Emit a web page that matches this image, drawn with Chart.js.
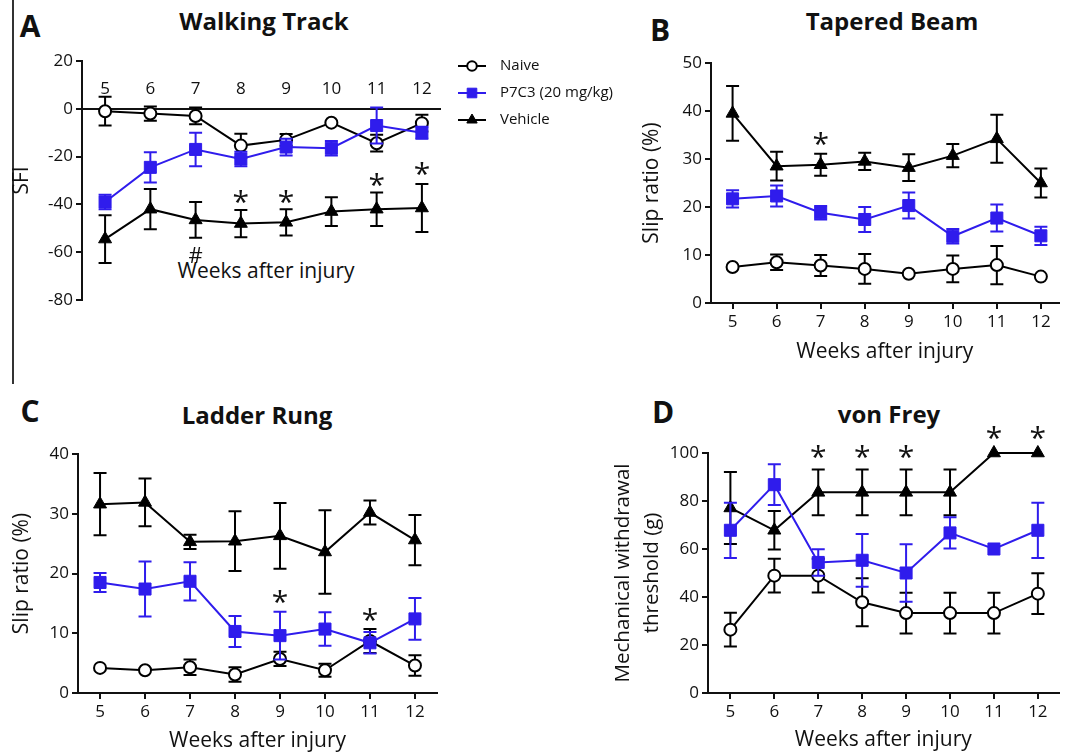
<!DOCTYPE html>
<html>
<head>
<meta charset="utf-8">
<script src="https://cdn.jsdelivr.net/npm/chart.js@4.4.0/dist/chart.umd.min.js"></script>
<style>
	body { margin: 0; width: 1068px; height: 754px; overflow: hidden; position: relative; background: #fff; font-family: 'Open Sans', sans-serif; color: #111; }
	canvas { position: absolute; }
	.txt { position: absolute; transform: translate(-50%, -50%); white-space: nowrap; line-height: 1; }
	.letter { font-weight: bold; font-size: 30px; }
	.title { font-weight: bold; font-size: 24px; }
	.axis { font-size: 21px; }
	#frame { position: absolute; left: 12px; top: 0; width: 2px; height: 384px; background: #333; }
</style>
</head>
<body>
<div id="frame"></div>

<div class="txt letter" style="left:30px;top:26px">A</div>
<div class="txt title" style="left:264px;top:21px">Walking Track</div>
<div class="txt axis" style="left:266px;top:270px">Weeks after injury</div>
<div class="txt letter" style="left:660px;top:30px">B</div>
<div class="txt title" style="left:892px;top:21px">Tapered Beam</div>
<div class="txt letter" style="left:30px;top:411px">C</div>
<div class="txt title" style="left:257px;top:415px">Ladder Rung</div>
<div class="txt letter" style="left:663px;top:412px">D</div>
<div class="txt title" style="left:889px;top:414px">von Frey</div>

<canvas id="cA" width="640" height="290" style="left:0;top:40px"></canvas>
<canvas id="cB" width="468" height="330" style="left:600px;top:40px"></canvas>
<canvas id="cC" width="460" height="374" style="left:0;top:380px"></canvas>
<canvas id="cD" width="508" height="374" style="left:560px;top:380px"></canvas>

<script>
const weeks = [5, 6, 7, 8, 9, 10, 11, 12]
const seriesNames = ['Naive', 'P7C3 (20 mg/kg)', 'Vehicle']

// A - walking track (SFI)
const wtNaive = [-1, -2, -3, -15.4, -13, -5.8, -14.4, -6]
const wtNaiveErr = [6, 3, 3.5, 5, 2.5, 0.5, 3.5, 3.5]
const wtP7C3 = [-39, -24.5, -17, -21, -16, -16.5, -7, -10]
const wtP7C3Err = [3, 6.3, 7, 3, 3.5, 3, 7.5, 2.5]
const wtVehicle = [-54.5, -42, -46.5, -48, -47.5, -43, -42, -41.5]
const wtVehicleErr = [10, 8.4, 7.5, 5.7, 5.5, 6, 7, 10]
const wtMarks = [
	{ x: 8, y: -36, t: '*' }, { x: 9, y: -36, t: '*' },
	{ x: 11, y: -29, t: '*' }, { x: 12, y: -24.5, t: '*' },
	{ x: 7, y: -61, t: '#' },
]

// B - tapered beam
const tbNaive = [7.5, 8.5, 7.8, 7.1, 6.1, 7.1, 7.9, 5.5]
const tbNaiveErr = [0, 1.6, 2.2, 3.1, 0, 2.8, 4, 0]
const tbP7C3 = [21.7, 22.3, 18.8, 17.4, 20.3, 13.9, 17.7, 14]
const tbP7C3Err = [1.8, 2.2, 1.4, 2.6, 2.7, 1.5, 2.8, 1.9]
const tbVehicle = [39.5, 28.5, 28.8, 29.5, 28.2, 30.7, 34.2, 25]
const tbVehicleErr = [5.7, 3, 2.3, 1.8, 2.8, 2.4, 5, 3]
const tbMarks = [{ x: 7, y: 34.6, t: '*' }]

// C - ladder rung
const lrNaive = [4.2, 3.8, 4.3, 3.1, 5.7, 3.8, 8.7, 4.6]
const lrNaiveErr = [0, 0, 1.3, 1.2, 1.2, 1.1, 2, 1.7]
const lrP7C3 = [18.5, 17.4, 18.7, 10.3, 9.6, 10.7, 8.4, 12.4]
const lrP7C3Err = [1.6, 4.6, 3.2, 2.6, 4, 2.8, 1.8, 3.5]
const lrVehicle = [31.6, 31.9, 25.3, 25.4, 26.3, 23.6, 30.2, 25.6]
const lrVehicleErr = [5.2, 4, 1.2, 5, 5.5, 7, 2, 4.2]
const lrMarks = [{ x: 9, y: 16.4, t: '*' }, { x: 11, y: 13.4, t: '*' }]

// D - von Frey
const vfNaive = [26.4, 48.9, 48.9, 37.8, 33.3, 33.3, 33.3, 41.4]
const vfNaiveErr = [7, 7, 7, 10, 8.5, 8.5, 8.5, 8.5]
const vfP7C3 = [67.8, 86.8, 54.4, 55.3, 50, 66.7, 60, 67.8]
const vfP7C3Err = [11.5, 8.5, 5.5, 11, 12, 6.5, 0, 11.5]
const vfVehicle = [77.1, 67.8, 83.6, 83.6, 83.6, 83.6, 100, 100]
const vfVehicleErr = [15, 8, 9.5, 9.5, 9.5, 9.5, 0, 0]
const vfMarks = [
	{ x: 7, y: 101, t: '*' }, { x: 8, y: 101, t: '*' }, { x: 9, y: 101, t: '*' },
	{ x: 11, y: 109, t: '*' }, { x: 12, y: 109, t: '*' },
]

const INK = '#111'
const BLUE = '#2f1cec'
const FONT = "'Open Sans', sans-serif"

Chart.defaults.font.family = FONT
Chart.defaults.color = INK

const naiveStyle = {
	label: seriesNames[0], borderColor: '#000', borderWidth: 2,
	pointStyle: 'circle', pointRadius: 6, pointBorderWidth: 2,
	pointBackgroundColor: '#fff', pointBorderColor: '#000', order: 1,
}
const p7c3Style = {
	label: seriesNames[1], borderColor: BLUE, borderWidth: 2,
	pointStyle: 'rect', pointRadius: 8.5, pointBorderWidth: 1,
	pointBackgroundColor: BLUE, pointBorderColor: BLUE, order: 0,
}
const vehicleStyle = {
	label: seriesNames[2], borderColor: '#000', borderWidth: 2,
	pointStyle: 'triangle', pointRadius: 7.5, pointBorderWidth: 1,
	pointBackgroundColor: '#000', pointBorderColor: '#000', order: 2,
}

function series(vals, errs, style) {
	return {
		...style,
		data: weeks.map((w, i) => ({ x: w, y: vals[i] })),
		errors: errs,
		tension: 0,
		clip: false,
	}
}

// SEM whiskers, drawn just before each dataset so its markers sit on top
const errorBars = {
	id: 'errorBars',
	beforeDatasetDraw(chart, args) {
		const ds = chart.data.datasets[args.index]
		if (!ds.errors) return
		const xs = chart.scales.x
		const ys = chart.scales.y
		const ctx = chart.ctx
		ctx.save()
		ctx.strokeStyle = ds.borderColor
		ctx.lineWidth = 2
		ds.data.forEach((p, i) => {
			const e = ds.errors[i]
			if (!e) return
			const px = xs.getPixelForValue(p.x)
			const top = ys.getPixelForValue(p.y + e)
			const bot = ys.getPixelForValue(p.y - e)
			ctx.beginPath()
			ctx.moveTo(px, top)
			ctx.lineTo(px, bot)
			ctx.moveTo(px - 6.5, top)
			ctx.lineTo(px + 6.5, top)
			ctx.moveTo(px - 6.5, bot)
			ctx.lineTo(px + 6.5, bot)
			ctx.stroke()
		})
		ctx.restore()
	},
}

// significance marks (* and #)
const marks = {
	id: 'marks',
	afterDatasetsDraw(chart, args, opts) {
		const items = opts.items || []
		const ctx = chart.ctx
		const xs = chart.scales.x
		const ys = chart.scales.y
		ctx.save()
		ctx.fillStyle = INK
		ctx.textAlign = 'center'
		ctx.textBaseline = 'alphabetic'
		items.forEach(m => {
			const size = m.t === '*' ? 30 : 22
			ctx.font = size + 'px ' + FONT
			const lift = m.t === '*' ? 0.56 : 0.36
			ctx.fillText(m.t, xs.getPixelForValue(m.x), ys.getPixelForValue(m.y) + lift * size)
		})
		ctx.restore()
	},
}

// legend with line + marker, to the right of panel A
const sideLegend = {
	id: 'sideLegend',
	afterDraw(chart, args, opts) {
		if (!opts.display) return
		const ctx = chart.ctx
		ctx.save()
		chart.data.datasets.forEach((ds, i) => {
			const y = opts.y + i * opts.gap
			ctx.strokeStyle = ds.borderColor
			ctx.lineWidth = 2
			ctx.beginPath()
			ctx.moveTo(opts.x, y)
			ctx.lineTo(opts.x + 28, y)
			ctx.stroke()
			ctx.fillStyle = ds.pointBackgroundColor
			ctx.strokeStyle = ds.pointBorderColor
			ctx.lineWidth = ds.pointBorderWidth
			Chart.helpers.drawPoint(ctx, {
				pointStyle: ds.pointStyle,
				radius: ds.pointRadius * 0.8,
				borderWidth: ds.pointBorderWidth,
				rotation: 0,
			}, opts.x + 14, y)
			ctx.fillStyle = INK
			ctx.font = '15px ' + FONT
			ctx.textAlign = 'left'
			ctx.textBaseline = 'middle'
			ctx.fillText(ds.label, opts.x + 42, y)
		})
		ctx.restore()
	},
}

function yAxis(o) {
	return {
		type: 'linear',
		min: o.min,
		max: o.max,
		ticks: { stepSize: o.step, font: { size: 17 }, color: INK, padding: 3 },
		grid: { drawOnChartArea: false, tickLength: 6, lineWidth: 2, color: INK },
		border: { color: INK, width: 2 },
		title: {
			display: true,
			text: o.title,
			color: INK,
			font: { size: o.titleSize || 21, lineHeight: o.lineHeight || 1.2 },
			padding: { top: o.titlePad, bottom: 0 },
		},
		afterFit: s => { s.width = o.width },
	}
}

function xAxis(o) {
	return {
		type: 'linear',
		min: o.min,
		max: o.max,
		afterBuildTicks: s => { s.ticks = weeks.map(v => ({ value: v })) },
		ticks: { font: { size: 17 }, color: INK, padding: 2.8, maxRotation: 0, autoSkip: false },
		grid: { drawOnChartArea: false, tickLength: 6, lineWidth: 2, color: INK },
		border: { color: INK, width: 2 },
		title: {
			display: true,
			text: 'Weeks after injury',
			color: INK,
			font: { size: 21 },
			padding: { top: 0, bottom: o.titlePad },
		},
		afterFit: s => { s.height = o.height },
	}
}

function panel(id, d, scales, pad, extra) {
	return new Chart(document.getElementById(id), {
		type: 'line',
		data: {
			datasets: [
				series(d[0], d[1], naiveStyle),
				series(d[2], d[3], p7c3Style),
				series(d[4], d[5], vehicleStyle),
			],
		},
		options: {
			responsive: false,
			animation: false,
			events: [],
			layout: { padding: pad },
			scales: scales,
			plugins: {
				legend: { display: false },
				tooltip: { enabled: false },
				marks: { items: extra.marks },
				sideLegend: extra.legend || { display: false },
			},
		},
		plugins: [errorBars, marks, sideLegend],
	})
}

// A: x axis sits on y = 0 with labels above the line
panel('cA',
	[wtNaive, wtNaiveErr, wtP7C3, wtP7C3Err, wtVehicle, wtVehicleErr],
	{
		x: {
			type: 'linear',
			min: 4.49,
			max: 12.4,
			position: { y: 0 },
			afterBuildTicks: s => { s.ticks = weeks.map(v => ({ value: v })) },
			ticks: { font: { size: 17 }, color: INK, padding: -30.2, maxRotation: 0, autoSkip: false },
			grid: { drawOnChartArea: false, drawTicks: false, lineWidth: 2, color: INK },
			border: { color: INK, width: 2 },
		},
		y: yAxis({ min: -80, max: 20, step: 20, title: 'SFI', titlePad: 9.4, width: 82 }),
	},
	{ top: 21, right: 200, bottom: 30, left: 0 },
	{ marks: wtMarks, legend: { display: true, x: 458, y: 26, gap: 27 } }
)

panel('cB',
	[tbNaive, tbNaiveErr, tbP7C3, tbP7C3Err, tbVehicle, tbVehicleErr],
	{
		x: xAxis({ min: 4.51, max: 12.4, height: 67, titlePad: 5.4 }),
		y: yAxis({ min: 0, max: 50, step: 10, title: 'Slip ratio (%)', titlePad: 39.4, width: 111 }),
	},
	{ top: 23, right: 1, bottom: 0, left: 0 },
	{ marks: tbMarks }
)

panel('cC',
	[lrNaive, lrNaiveErr, lrP7C3, lrP7C3Err, lrVehicle, lrVehicleErr],
	{
		x: xAxis({ min: 4.51, max: 12.49, height: 61, titlePad: 0 }),
		y: yAxis({ min: 0, max: 40, step: 10, title: 'Slip ratio (%)', titlePad: 9.4, width: 78 }),
	},
	{ top: 74, right: 23, bottom: 0, left: 0 },
	{ marks: lrMarks }
)

panel('cD',
	[vfNaive, vfNaiveErr, vfP7C3, vfP7C3Err, vfVehicle, vfVehicleErr],
	{
		x: xAxis({ min: 4.49, max: 12.47, height: 61, titlePad: 1 }),
		y: yAxis({
			min: 0, max: 100, step: 20,
			title: ['Mechanical withdrawal', 'threshold (g)'],
			titleSize: 20.5, lineHeight: 29 / 20.5, titlePad: 48.5, width: 148,
		}),
	},
	{ top: 73, right: 0, bottom: 0, left: 0 },
	{ marks: vfMarks }
)
</script>
</body>
</html>
